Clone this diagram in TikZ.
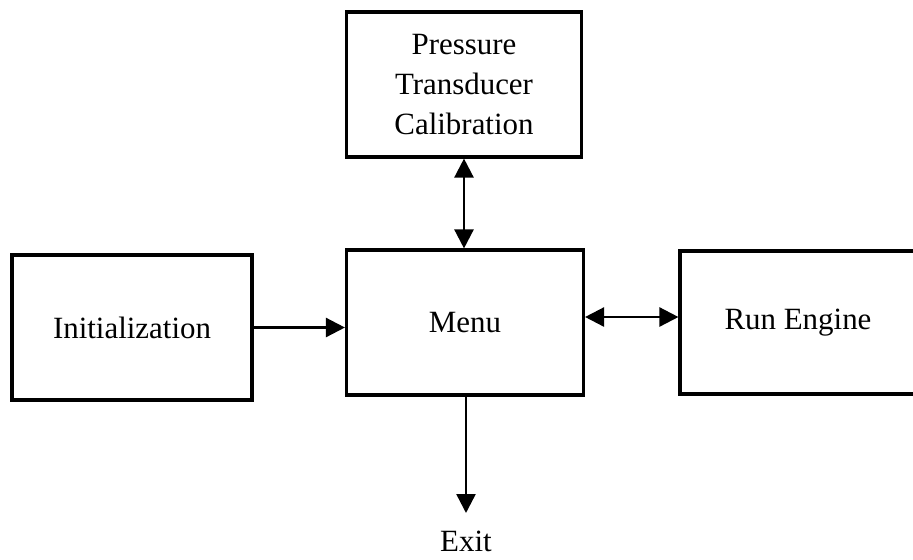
\documentclass[tikz,border=0pt]{standalone}
\usepackage{fontspec}
\setmainfont{Liberation Serif}
\usetikzlibrary{arrows.meta}

\begin{document}
\begin{tikzpicture}[x=0.02cm, y=-0.02cm,
    every node/.style={font=\fontsize{17.6}{22.8}\selectfont},
    block/.style={draw, line width=1.8pt, align=center, minimum height=2.9cm},
    link/.style={line width=1.4pt},
    head/.tip={Triangle[length=0.38cm, width=0.38cm]}]
      \useasboundingbox (0,0) rectangle (913,559);
      \node (calib) at (464,84.5) [block, minimum width=4.7cm] {Pressure\\Transducer\\Calibration};
      \node (init) at (132,327.5) [block, minimum width=4.8cm] {Initialization};
      \node (menu) at (465,322.5) [block, minimum width=4.74cm] {Menu};
      \node (run) at (798,322.5) [block, minimum width=4.72cm, minimum height=2.86cm] {Run Engine};
      \node (exit) at (466,513) [anchor=north, inner ysep=0.36cm] {Exit};
      \draw[link, head-head] (calib.south) -- (calib.south |- menu.north);
      \draw[link, -head] (init.east) -- (init.east -| menu.west);
      \draw[link, head-head] ([yshift=0.11cm]menu.east) -- ([yshift=0.11cm]run.west);
      \draw[link, -head] (menu.south -| exit.north) -- (exit.north);
    \end{tikzpicture}
\end{document}
